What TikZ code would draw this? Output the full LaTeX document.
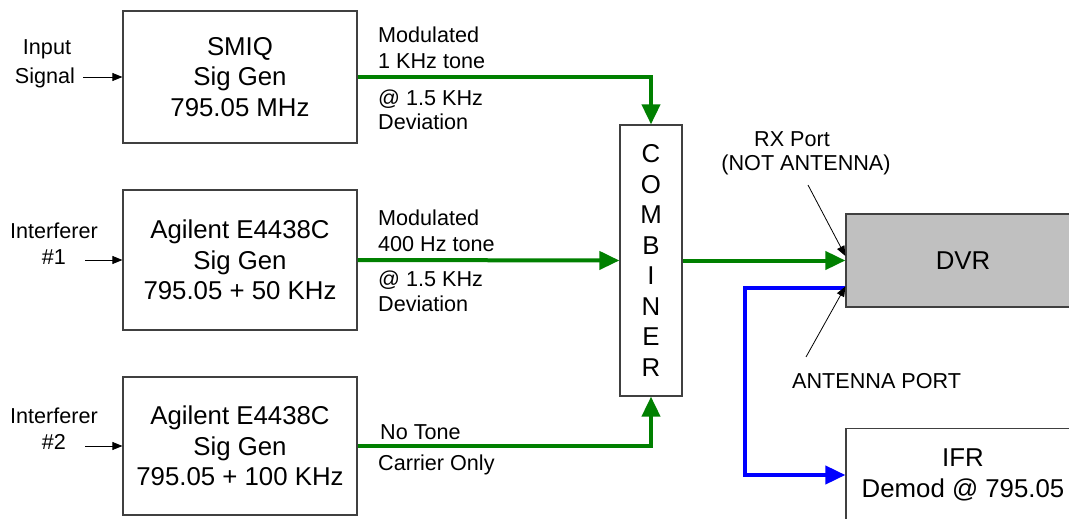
\documentclass[tikz,border=0pt]{standalone}
\usepackage{fontspec}
\setmainfont{Liberation Sans}
\usetikzlibrary{arrows.meta}
\definecolor{wire}{RGB}{0,128,0}
\definecolor{bluewire}{RGB}{0,0,255}
\definecolor{boxline}{RGB}{64,64,64}
\definecolor{dvrfill}{RGB}{192,192,192}
\tikzset{
  unit/.style={draw=boxline, line width=1.2pt, fill=white, minimum width=234pt, inner sep=0pt, align=center,
    font=\fontsize{25.8}{30.5}\selectfont},
  lbl/.style={inner sep=0pt, text height=15.4pt, text depth=0pt, font=\fontsize{21.6}{24}\selectfont},
  greenwire/.style={draw=wire, line width=4pt, -{Triangle[length=20pt,width=18pt]}},
  bluewire line/.style={draw=bluewire, line width=4pt, line join=miter, -{Triangle[length=20pt,width=18pt]}},
  thinarrow/.style={draw=black, line width=0.8pt, -{Triangle[length=10pt,width=8pt]}},
}
\begin{document}
\begin{tikzpicture}[x=1pt,y=-1pt]
\useasboundingbox (0,0) rectangle (1069,519);
\clip (0,0) rectangle (1069,519);

% boxes
\node[unit, minimum height=132pt] (smiq) at (240,77) {SMIQ\\Sig Gen\\795.05 MHz};
\node[unit, minimum height=140pt] (ag1) at (240,260) {Agilent E4438C\\Sig Gen\\795.05 + 50 KHz};
\node[unit, minimum height=138pt] (ag2) at (240,446) {Agilent E4438C\\Sig Gen\\795.05 + 100 KHz};
\node[unit, minimum width=62pt, minimum height=271pt] (comb) at (651,260.5) {C\\O\\M\\B\\I\\N\\E\\R};
\node[unit, fill=dvrfill, minimum height=93pt] (dvr) at (963,260.5) {DVR};
\node[unit, minimum height=93pt] (ifr) at (963,475) {IFR\\Demod @ 795.05};

% input labels and arrows
\node[lbl, anchor=center] (inA) at (47,47) {Input};
\node[lbl, anchor=center] (inB) at (45,76) {Signal};
\coordinate (in0) at (83,77);
\draw[thinarrow] (in0) -- (smiq.west);

\node[lbl, anchor=center] (i1A) at (54,231) {Interferer};
\node[lbl, anchor=center] (i1B) at (54,257) {\#1};
\coordinate (in1) at (85,260);
\draw[thinarrow] (in1) -- (ag1.west);

\node[lbl, anchor=center] (i2A) at (54,416) {Interferer};
\node[lbl, anchor=center] (i2B) at (54,442) {\#2};
\coordinate (in2) at (85,446);
\draw[thinarrow] (in2) -- (ag2.west);

% green wires
\draw[greenwire] (smiq.east) -| (comb.north);
\draw[greenwire] (ag1.east) -- (comb.west);
\draw[greenwire] (ag2.east) -| (comb.south);
\draw[greenwire] (comb.east) -- (dvr.west);

% blue wire
\coordinate (antp) at ([yshift=-27.5pt]dvr.west);
\coordinate (bend) at (745,288);
\draw[bluewire line] (antp) -- (bend) |- (ifr.west);

% wire labels
\node[lbl, anchor=west] (m1a) at (378,35) {Modulated};
\node[lbl, anchor=west] (m1b) at (378,61) {1 KHz tone};
\node[lbl, anchor=west] (m1c) at (378,98) {@ 1.5 KHz};
\node[lbl, anchor=west] (m1d) at (378,122) {Deviation};

\node[lbl, anchor=west] (m2a) at (378,218) {Modulated};
\node[lbl, anchor=west] (m2b) at (378,244) {400 Hz tone};
\node[lbl, anchor=west] (m2c) at (378,279) {@ 1.5 KHz};
\node[lbl, anchor=west] (m2d) at (378,304) {Deviation};

\node[lbl, anchor=west] (m3a) at (380,432) {No Tone};
\node[lbl, anchor=west] (m3b) at (378,463) {Carrier Only};

% port labels
\node[lbl, anchor=center] (rxa) at (792,139) {RX Port};
\node[lbl, anchor=center] (rxb) at (806,163) {(NOT ANTENNA)};
\node[lbl, anchor=west] (antl) at (792,381) {ANTENNA PORT};

\coordinate (rxfrom) at (808,185);
\draw[thinarrow] (rxfrom) -- ([yshift=4.5pt]dvr.west);
\coordinate (antfrom) at (806,357);
\draw[thinarrow] (antfrom) -- ([yshift=-26pt]dvr.west);
\end{tikzpicture}
\end{document}
